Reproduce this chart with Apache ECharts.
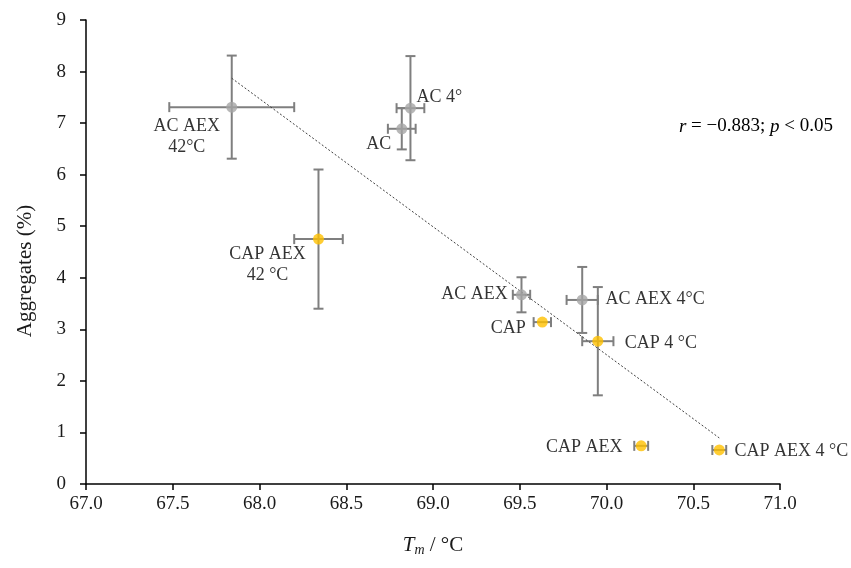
<!DOCTYPE html>
<html><head><meta charset="utf-8">
<script src="https://cdn.jsdelivr.net/npm/echarts@6/dist/echarts.min.js"></script>
<style>html,body{margin:0;padding:0;background:#fff}#c{width:851px;height:568px}</style>
</head><body><div id="c"></div>
<script>
const labels = ['AC AEX\n42°C','AC 4°','AC','CAP AEX\n42 °C','AC AEX','AC AEX 4°C','CAP','CAP 4 °C','CAP AEX','CAP AEX 4 °C'];
const groups = ['AC','AC','AC','CAP','AC','AC','CAP','CAP','CAP','CAP'];
const tm     = [67.84, 68.87, 68.82, 68.34, 69.51, 69.86, 69.63, 69.95, 70.20, 70.65];
const tmErr  = [0.36, 0.08, 0.08, 0.14, 0.05, 0.09, 0.05, 0.09, 0.04, 0.04];
const agg    = [7.31, 7.29, 6.89, 4.75, 3.67, 3.57, 3.14, 2.77, 0.74, 0.66];
const aggErr = [1.00, 1.01, 0.40, 1.35, 0.34, 0.64, 0.00, 1.05, 0.00, 0.00];
const xTicks = [67.0, 67.5, 68.0, 68.5, 69.0, 69.5, 70.0, 70.5, 71.0];
const yTicks = [0,1,2,3,4,5,6,7,8,9];
const stats = {r: '−0.883', p: '0.05'};

// style-only settings
const colors = {AC: '#A5A5A5', CAP: '#FFC000'};
const labelOffsets = [[-45,30],[29,-11],[-23,15],[-51,26],[-47,-1],[73,-1],[-34,6],[63,2],[-57,1],[72,1]];
const FONT = '"Liberation Serif", "DejaVu Serif", serif';
const TXT = '#000';

// linear regression trend line
const n = tm.length;
const mx = tm.reduce((a,b)=>a+b,0)/n, my = agg.reduce((a,b)=>a+b,0)/n;
let sxy=0, sxx=0;
for (let i=0;i<n;i++){ sxy+=(tm[i]-mx)*(agg[i]-my); sxx+=(tm[i]-mx)**2; }
const slope = sxy/sxx, icpt = my - slope*mx;
const xmin = Math.min(...tm), xmax = Math.max(...tm);
const trend = [[xmin, icpt+slope*xmin],[xmax, icpt+slope*xmax]];

const errData = tm.map((x,i)=>[x, agg[i], tmErr[i], aggErr[i]]);
const ptData = tm.map((x,i)=>({
  value:[x, agg[i]],
  itemStyle:{color: colors[groups[i]]},
  label:{show:true, formatter: labels[i], position:'inside', offset: labelOffsets[i],
    align:'center', verticalAlign:'middle', color:TXT, textBorderWidth:0, textBorderColor:'transparent',
    fontFamily: FONT, fontSize:18, lineHeight:21}
}));

const chart = echarts.init(document.getElementById('c'), null, {renderer:'canvas'});
chart.setOption({
  animation:false,
  backgroundColor:'#fff',
  grid:{left:86, right:71, top:20, bottom:84, containLabel:false},
  title:{
    text:'{i|r} = ' + stats.r + '; {i|p} < ' + stats.p,
    right:13, top:112,
    textStyle:{fontFamily:FONT, fontSize:19, fontWeight:'normal', color:TXT,
      rich:{i:{fontStyle:'italic', fontFamily:FONT, fontSize:19, color:TXT}}}
  },
  xAxis:{
    type:'value', min:xTicks[0], max:xTicks[xTicks.length-1], interval:0.5,
    splitLine:{show:false},
    axisLine:{lineStyle:{color:'#000', width:1.5}},
    axisTick:{show:true, length:6, lineStyle:{color:'#000', width:1.5}},
    axisLabel:{margin:11, color:'#1a1a1a', fontFamily:FONT, fontSize:19, formatter:v=>v.toFixed(1)},
    name:'{i|T}{s|m} / °C', nameLocation:'middle', nameGap:50,
    nameTextStyle:{fontFamily:FONT, fontSize:21, color:'#1a1a1a',
      rich:{i:{fontStyle:'italic', fontFamily:FONT, fontSize:21, color:'#1a1a1a'},
            s:{fontStyle:'italic', fontFamily:FONT, fontSize:14, color:'#1a1a1a', padding:[9,0,0,0]}}}
  },
  yAxis:{
    type:'value', min:yTicks[0], max:yTicks[yTicks.length-1], interval:1,
    splitLine:{show:false},
    axisLine:{show:true, lineStyle:{color:'#000', width:1.5}},
    axisTick:{show:true, length:6, lineStyle:{color:'#000', width:1.5}},
    axisLabel:{margin:20, color:'#1a1a1a', fontFamily:FONT, fontSize:19},
    name:'Aggregates (%)', nameLocation:'middle', nameGap:50,
    nameTextStyle:{fontFamily:FONT, fontSize:21, color:'#1a1a1a', padding:[0,38,0,0]}
  },
  series:[
    {
      type:'custom', data:errData, z:2,
      renderItem:(params, api)=>{
        const x=api.value(0), y=api.value(1), ex=api.value(2), ey=api.value(3);
        const st={stroke:'#7F7F7F', lineWidth:2};
        const ch=[];
        const cap=5;
        if (ex>0){
          const l=api.coord([x-ex,y]), r=api.coord([x+ex,y]);
          ch.push({type:'line', shape:{x1:l[0],y1:l[1],x2:r[0],y2:r[1]}, style:st});
          ch.push({type:'line', shape:{x1:l[0],y1:l[1]-cap,x2:l[0],y2:l[1]+cap}, style:st});
          ch.push({type:'line', shape:{x1:r[0],y1:r[1]-cap,x2:r[0],y2:r[1]+cap}, style:st});
        }
        if (ey>0){
          const t=api.coord([x,y+ey]), b=api.coord([x,y-ey]);
          ch.push({type:'line', shape:{x1:t[0],y1:t[1],x2:b[0],y2:b[1]}, style:st});
          ch.push({type:'line', shape:{x1:t[0]-cap,y1:t[1],x2:t[0]+cap,y2:t[1]}, style:st});
          ch.push({type:'line', shape:{x1:b[0]-cap,y1:b[1],x2:b[0]+cap,y2:b[1]}, style:st});
        }
        return {type:'group', children:ch};
      }
    },
    {
      type:'line', data:trend, z:3, symbol:'none', silent:true,
      lineStyle:{color:'#404040', width:1, type:[2,2]}
    },
    {
      type:'scatter', data:ptData, z:4, symbol:'circle', symbolSize:11
    }
  ]
});
</script></body></html>
